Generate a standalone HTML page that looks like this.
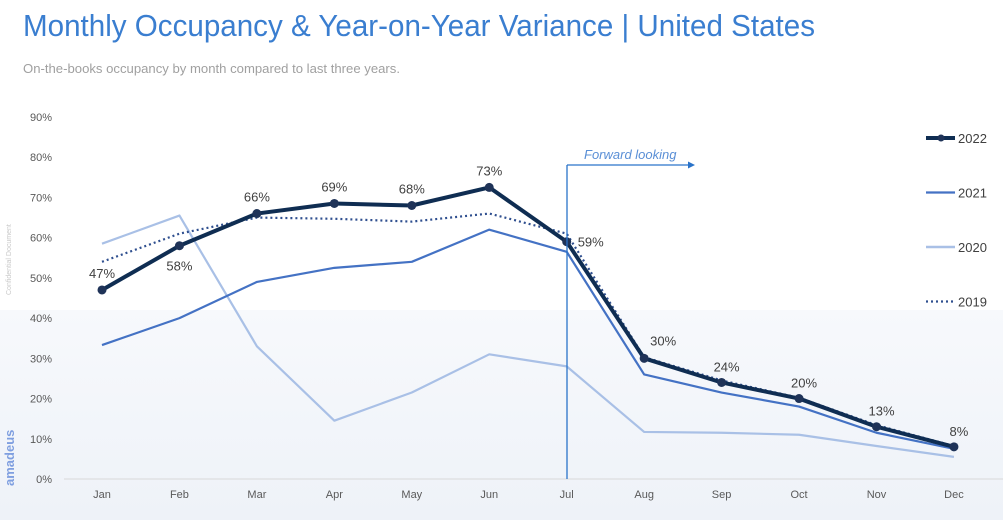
<!DOCTYPE html>
<html><head><meta charset="utf-8"><style>
html,body{margin:0;padding:0;background:#fff;width:1003px;height:520px;overflow:hidden}
svg{display:block;font-family:"Liberation Sans",sans-serif}
</style></head><body>
<svg id="chart" width="1003" height="520" viewBox="0 0 1003 520">
<defs><linearGradient id="bg" x1="0" y1="0" x2="0" y2="1"><stop offset="0" stop-color="#f7f9fc"/><stop offset="1" stop-color="#eef2f8"/></linearGradient></defs>
<rect x="0" y="310" width="1003" height="210" fill="url(#bg)"/>
<text x="23" y="36" font-size="31" fill="#3a7ed0" textLength="792" lengthAdjust="spacingAndGlyphs">Monthly Occupancy &amp; Year-on-Year Variance | United States</text>
<text x="23" y="73" font-size="13" fill="#a0a0a0" textLength="377" lengthAdjust="spacingAndGlyphs">On-the-books occupancy by month compared to last three years.</text>
<text transform="translate(11,295) rotate(-90)" font-size="7" fill="#c8c8c8">Confidential Document</text>
<text transform="translate(14,486) rotate(-90)" font-size="13" font-weight="bold" fill="#7f9fe0">amadeus</text>
<g id="yaxis"></g><g id="xaxis"></g><g id="series"></g><g id="labels"></g>
<line x1="567" y1="165" x2="567" y2="479" stroke="#2a73c9" stroke-width="1.3"/>
<line x1="567" y1="165" x2="690" y2="165" stroke="#2a73c9" stroke-width="1.3"/>
<polygon points="695,165 688,161.5 688,168.5" fill="#2a73c9"/>
<text x="584" y="159" font-size="13" font-style="italic" fill="#5a8fd6">Forward looking</text>
<g id="legend"></g>
</svg>
<script>
const months=["Jan","Feb","Mar","Apr","May","Jun","Jul","Aug","Sep","Oct","Nov","Dec"];
const y2022=[47,58,66,68.5,68,72.5,59,30,24,20,13,8];
const y2021=[33.3,40,49,52.5,54,62,56.5,26,21.5,18,11.5,7.5];
const y2020=[58.5,65.5,33,14.5,21.5,31,28,11.7,11.5,11,8.2,5.5];
const y2019=[54,61,65,64.7,64,66,61,30.3,24.5,20.2,13.4,8.2];
const labels2022=["47%","58%","66%","69%","68%","73%","59%","30%","24%","20%","13%","8%"];
const yTicks=[0,10,20,30,40,50,60,70,80,90];
const NS="http://www.w3.org/2000/svg";
const X=i=>102+i*77.45, Y=v=>479-v*4.022;
function mk(t,a,p){const e=document.createElementNS(NS,t);for(const k in a)e.setAttribute(k,a[k]);(p||document.getElementById('chart')).appendChild(e);return e;}
const ya=document.getElementById('yaxis'),xa=document.getElementById('xaxis'),se=document.getElementById('series'),lb=document.getElementById('labels'),lg=document.getElementById('legend');
yTicks.forEach(v=>{const t=mk('text',{x:52,y:Y(v)+4,'font-size':11,fill:'#595959','text-anchor':'end'},ya);t.textContent=v+'%';

});
const ax=mk('line',{x1:64,y1:479,x2:1003,y2:479,stroke:'#d9d9d9'},xa);


months.forEach((m,i)=>{const t=mk('text',{x:X(i),y:498,'font-size':11,fill:'#595959','text-anchor':'middle'},xa);t.textContent=m;

});
function line(d,style,name){const p=mk('polyline',Object.assign({points:d.map((v,i)=>X(i)+','+Y(v)).join(' '),fill:'none','stroke-linejoin':'round'},style),se);

}
line(y2020,{stroke:'#a9c0e6','stroke-width':2.2},'line-2020');
line(y2021,{stroke:'#4472c4','stroke-width':2.2},'line-2021');
line(y2019,{stroke:'#2f4f8f','stroke-width':2.2,'stroke-dasharray':'2,3'},'line-2019');
line(y2022,{stroke:'#0f2d52','stroke-width':4},'line-2022');
y2022.forEach((v,i)=>{const c=mk('circle',{cx:X(i),cy:Y(v),r:4.5,fill:'#1f3358'},se);


let lx=X(i),ly=Y(v)-12,anc='middle';
if(i==6){lx=X(i)+11;ly=Y(v)+5;anc='start';}
else if(i==1){ly=Y(v)+25;}
else if(i==7){lx=X(i)+19;ly=Y(v)-13;}
else if(i>=8){lx=X(i)+5;ly=Y(v)-11;}
const t=mk('text',{x:lx,y:ly,'font-size':13,fill:'#404040','text-anchor':anc},lb);t.textContent=labels2022[i];

});
const legItems=[["2022",{stroke:'#0f2d52','stroke-width':4},true],["2021",{stroke:'#4472c4','stroke-width':2.2}],["2020",{stroke:'#a9c0e6','stroke-width':2.5}],["2019",{stroke:'#2f4f8f','stroke-width':2.2,'stroke-dasharray':'2,3'}]];
legItems.forEach((it,k)=>{const y=138+k*54.5;const l=mk('line',Object.assign({x1:926,y1:y,x2:955,y2:y},it[1]),lg);


if(it[2]){const c=mk('circle',{cx:941,cy:y,r:3.5,fill:'#1f3358'},lg);}
const t=mk('text',{x:958,y:y+5,'font-size':13,fill:'#404040'},lg);t.textContent=it[0];

});
</script>
</body></html>
